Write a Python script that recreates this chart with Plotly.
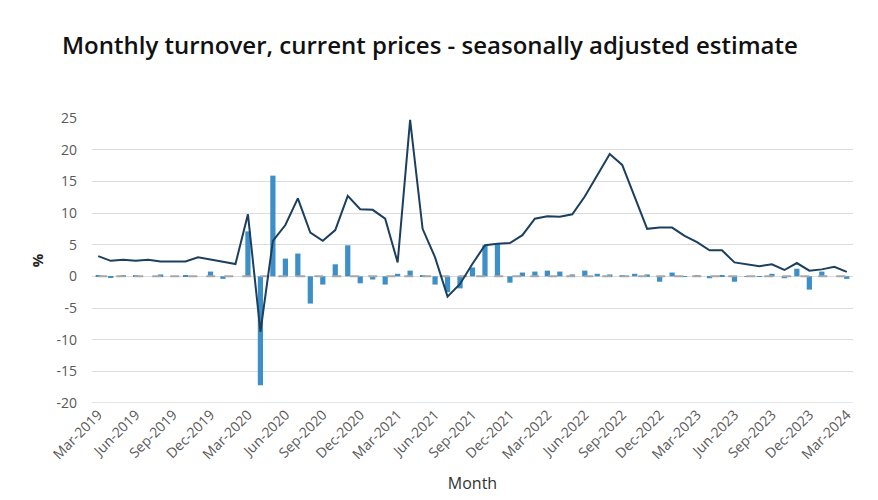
import plotly.graph_objects as go
import pandas as pd

months = list(pd.date_range("2019-03-01", "2024-03-01", freq="MS").strftime("%b-%Y"))

monthly_change = [
    0.1, -0.2, 0.1, 0.1, 0.0, 0.3, 0.0, 0.1, 0.0, 0.75, -0.4, 0.0,
    7.1, -17.2, 15.9, 2.8, 3.6, -4.3, -1.3, 1.9, 4.9, -1.1, -0.5, -1.3,
    0.4, 0.9, 0.1, -1.3, -2.5, -1.9, 1.4, 4.9, 5.15, -1.0, 0.6, 0.75,
    0.9, 0.75, 0.3, 0.9, 0.4, 0.3, 0.1, 0.4, 0.3, -0.85, 0.6, 0.05,
    0.1, -0.3, 0.2, -0.85, 0.05, 0.05, 0.4, -0.3, 1.2, -2.1, 0.75, 0.0,
    -0.4,
]

yearly_change = [
    3.2, 2.45, 2.6, 2.45, 2.6, 2.35, 2.35, 2.35, 3.0, 2.7, 2.3, 1.95,
    9.8, -8.75, 5.6, 8.1, 12.3, 6.9, 5.6, 7.3, 12.7, 10.6, 10.5, 9.1,
    2.2, 24.7, 7.5, 3.0, -3.2, -1.2, 2.0, 4.9, 5.15, 5.25, 6.5, 9.1,
    9.5, 9.4, 9.8, 12.6, 16.0, 19.3, 17.6, 12.6, 7.5, 7.7, 7.7, 6.4,
    5.4, 4.1, 4.1, 2.2, 1.9, 1.6, 1.9, 1.0, 2.1, 0.9, 1.1, 1.5,
    0.7,
]

zero_line = [0] * len(months)

y_ticks = [25, 20, 15, 10, 5, 0, -5, -10, -15, -20]
y_tick_text = ["25", "20", "15", "10", "5", "0", "-5", "-10", "-15", "-20"]
x_ticks = months[::3]

fig = go.Figure()
fig.add_trace(go.Scatter(
    x=months, y=zero_line, mode="lines",
    line=dict(color="#a8a8a8", width=2, dash="dash"),
    showlegend=False, hoverinfo="skip",
))
fig.add_trace(go.Bar(
    x=months, y=monthly_change, marker=dict(color="#3d8fc8", line=dict(width=0)),
    name="Monthly % change", showlegend=False,
))
fig.add_trace(go.Scatter(
    x=months, y=yearly_change, mode="lines",
    line=dict(color="#1c3f5e", width=2),
    name="Year-on-year % change", showlegend=False,
))

fig.update_layout(
    width=878, height=500,
    margin=dict(l=92, r=25, t=118, b=97, autoexpand=False),
    plot_bgcolor="white", paper_bgcolor="white",
    bargap=0.58,
    font=dict(family="Open Sans", color="#595959", size=13),
    title=dict(
        text="Monthly turnover, current prices - seasonally adjusted estimate",
        x=62 / 878, xanchor="left", y=1 - 46 / 500, yanchor="middle",
        font=dict(family="Open Sans", size=24, color="#111111", weight=600),
    ),
)
fig.update_xaxes(
    type="category", categoryorder="array", categoryarray=months,
    tickmode="array", tickvals=x_ticks, ticktext=x_ticks,
    tickangle=-45, showgrid=False, showline=False, ticks="",
    automargin=False,
    tickfont=dict(size=14, color="#595959"),
    title=dict(text="Month", font=dict(size=16, color="#333333"), standoff=15),
)
fig.update_yaxes(
    range=[-20, 25], tickmode="array", tickvals=y_ticks, ticktext=y_tick_text,
    showgrid=True, gridcolor="#dcdcdc", gridwidth=1,
    zeroline=False, showline=False, ticks="",
    automargin=False,
    ticklabelstandoff=14,
    tickfont=dict(size=14, color="#595959"),
    title=dict(text="<b>%</b>", font=dict(size=15, color="#222222"), standoff=9),
)
fig.add_shape(type="line", xref="paper", yref="y", x0=0, x1=1, y0=-20, y1=-20,
              line=dict(color="#c5ccd4", width=1))

fig.write_html("out.html", config={"displayModeBar": False},
               post_script="document.body.style.margin='0';")
